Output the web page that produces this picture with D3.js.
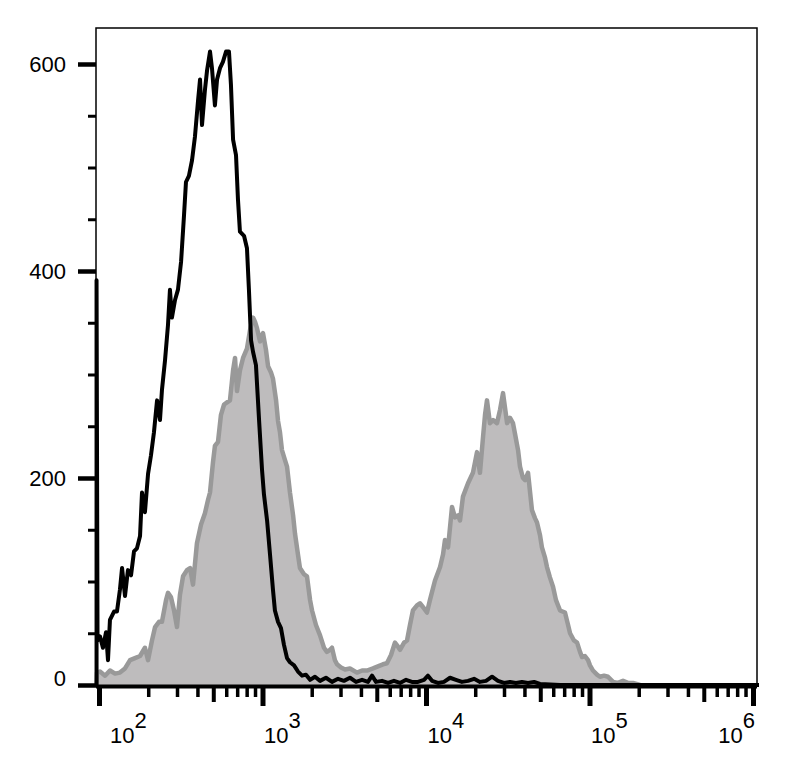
<!DOCTYPE html>
<html>
<head>
<meta charset="utf-8">
<script src="https://cdn.jsdelivr.net/npm/d3@7"></script>
<style>
  html, body { margin: 0; padding: 0; background: #fff; }
  svg { display: block; }
  text { font-family: "Liberation Sans", Arial, sans-serif; fill: #000; }
</style>
</head>
<body>
<svg id="chart" width="798" height="772"></svg>
<script>
// ---------- DATA ----------
// Unstained / isotype control histogram (black line): log10 intensity, event count
const blackLog = [1.985,1.985,1.991,2.006,2.024,2.043,2.055,2.067,2.092,2.110,2.128,2.141,2.159,2.177,2.196,2.214,2.232,2.251,2.263,2.281,2.300,2.318,2.336,2.355,2.373,2.385,2.404,2.422,2.434,2.446,2.465,2.483,2.502,2.520,2.532,2.550,2.569,2.587,2.606,2.618,2.630,2.648,2.661,2.679,2.691,2.709,2.722,2.740,2.758,2.777,2.795,2.807,2.820,2.838,2.850,2.862,2.887,2.905,2.917,2.930,2.942,2.960,2.979,2.997,3.009,3.028,3.046,3.064,3.076,3.095,3.113,3.131,3.150,3.168,3.193,3.217,3.242,3.266,3.291,3.321,3.352,3.388,3.425,3.462,3.498,3.535,3.572,3.609,3.645,3.670,3.694,3.731,3.768,3.804,3.841,3.878,3.914,3.951,3.988,4.012,4.037,4.073,4.110,4.147,4.183,4.220,4.257,4.294,4.330,4.367,4.404,4.440,4.477,4.514,4.550,4.587,4.624,4.661,4.697,4.820,6.040];
const blackCount = [0,391,43,47,36,51,24,63,71,71,92,113,86,111,106,129,132,144,186,167,204,222,244,275,256,285,314,348,382,355,372,382,409,454,486,492,507,530,565,585,541,575,594,612,596,560,585,596,602,612,612,580,527,512,469,438,434,422,382,333,322,309,256,208,184,159,126,92,72,61,55,39,26,22,19,13,9,10,5,8,4,7,3,6,4,7,3,5,3,9,3,4,2,4,2,5,3,3,5,9,4,2,3,7,5,3,4,6,3,4,8,4,2,3,2,3,2,3,1,0,0];

// Stained sample histogram (grey filled): log10 intensity, event count
const grayLog = [1.985,1.988,2.006,2.037,2.067,2.098,2.128,2.159,2.190,2.220,2.251,2.281,2.300,2.324,2.343,2.367,2.385,2.410,2.422,2.440,2.459,2.477,2.495,2.514,2.538,2.557,2.575,2.599,2.624,2.648,2.667,2.679,2.697,2.709,2.728,2.746,2.765,2.783,2.801,2.820,2.832,2.844,2.862,2.881,2.905,2.924,2.942,2.954,2.966,2.985,3.003,3.021,3.034,3.052,3.064,3.083,3.095,3.107,3.119,3.138,3.150,3.168,3.187,3.199,3.217,3.229,3.254,3.272,3.291,3.303,3.327,3.352,3.376,3.394,3.413,3.425,3.443,3.456,3.480,3.505,3.535,3.578,3.609,3.639,3.676,3.706,3.737,3.761,3.786,3.810,3.829,3.841,3.866,3.884,3.902,3.920,3.945,3.963,3.988,4.006,4.024,4.055,4.086,4.104,4.116,4.135,4.159,4.177,4.196,4.208,4.226,4.257,4.287,4.312,4.330,4.349,4.361,4.373,4.391,4.410,4.434,4.453,4.471,4.496,4.514,4.532,4.544,4.563,4.575,4.593,4.606,4.624,4.648,4.667,4.679,4.697,4.709,4.728,4.740,4.758,4.777,4.795,4.820,4.850,4.869,4.881,4.905,4.924,4.942,4.954,4.972,4.991,5.003,5.021,5.046,5.064,5.089,5.113,5.144,5.174,5.205,5.235,5.266,5.309];
const grayCount = [0,12,13,9,14,11,12,16,24,26,28,36,24,43,56,61,61,82,89,85,72,56,87,105,111,113,97,137,155,166,179,186,215,231,235,261,271,273,275,304,316,284,304,316,325,343,355,351,345,332,340,324,308,302,296,275,255,244,227,217,211,186,164,146,126,113,107,105,82,72,58,48,36,32,34,36,24,20,17,15,16,12,14,14,16,18,20,21,29,41,37,34,41,43,58,72,77,79,74,70,82,101,114,126,140,133,172,162,164,159,182,195,205,225,205,240,261,275,253,256,253,266,282,253,258,253,243,227,211,200,198,205,169,161,157,145,133,123,114,104,95,82,72,70,58,50,43,41,32,27,28,24,19,14,10,8,9,8,3,2,4,2,2,0];

const xTickExponents = [2, 3, 4, 5, 6];
const yMajorTicks = [0, 200, 400, 600];
const yMinorTicks = [50, 100, 150, 250, 300, 350, 450, 500, 550];

// ---------- LAYOUT ----------
const svg = d3.select("#chart");
const box = { left: 96, top: 28, right: 757, bottom: 686 };

const x = d3.scaleLog().domain([1e2, 1e6]).range([99, 753]);
const y = d3.scaleLinear().domain([0, 600]).range([685, 64]);

const black = blackLog.map((e, i) => ({ v: Math.pow(10, e), c: blackCount[i] }));
const gray = grayLog.map((e, i) => ({ v: Math.pow(10, e), c: grayCount[i] }));

svg.append("clipPath").attr("id", "clip")
  .append("rect")
  .attr("x", box.left - 2).attr("y", box.top)
  .attr("width", box.right - box.left + 4).attr("height", box.bottom - box.top + 2);

const plot = svg.append("g").attr("clip-path", "url(#clip)");

// grey filled histogram
plot.append("path")
  .datum(gray)
  .attr("fill", "#bebcbd")
  .attr("d", d3.area().x(d => x(d.v)).y0(y(0)).y1(d => y(d.c)));
plot.append("path")
  .datum(gray)
  .attr("fill", "none")
  .attr("stroke", "#999999")
  .attr("stroke-width", 4.5)
  .attr("stroke-linejoin", "round")
  .attr("d", d3.line().x(d => x(d.v)).y(d => y(d.c)));

// black control histogram
plot.append("path")
  .datum(black)
  .attr("fill", "none")
  .attr("stroke", "#000")
  .attr("stroke-width", 4)
  .attr("stroke-linejoin", "round")
  .attr("d", d3.line().x(d => x(d.v)).y(d => y(d.c)));

// frame
svg.append("rect")
  .attr("x", box.left).attr("y", box.top)
  .attr("width", box.right - box.left).attr("height", box.bottom - box.top)
  .attr("fill", "none").attr("stroke", "#000").attr("stroke-width", 1.5);

// ---------- X AXIS ----------
const decades = xTickExponents.map(e => Math.pow(10, e));
const fives = [], minors = [];
xTickExponents.slice(0, -1).forEach(e => {
  for (let m = 2; m <= 9; m++) {
    const v = m * Math.pow(10, e);
    if (m === 5) fives.push(v); else minors.push(v);
  }
});

function styleTicks(g, w) {
  g.select(".domain").remove();
  g.selectAll(".tick line").attr("stroke", "#000").attr("stroke-width", w);
  g.selectAll(".tick text").remove();
}
svg.append("g").attr("transform", `translate(0,${box.bottom})`)
  .call(d3.axisBottom(x).tickValues(minors).tickSize(11).tickFormat(""))
  .call(g => styleTicks(g, 3.5));
svg.append("g").attr("transform", `translate(0,${box.bottom})`)
  .call(d3.axisBottom(x).tickValues(fives).tickSize(16).tickFormat(""))
  .call(g => styleTicks(g, 4));
svg.append("g").attr("transform", `translate(0,${box.bottom})`)
  .call(d3.axisBottom(x).tickValues(decades).tickSize(20).tickFormat(""))
  .call(g => styleTicks(g, 5));

// thick x baseline
svg.append("line")
  .attr("x1", box.left).attr("x2", box.right)
  .attr("y1", box.bottom + 0.5).attr("y2", box.bottom + 0.5)
  .attr("stroke", "#000").attr("stroke-width", 4);

// x labels (10^n)
const xl = svg.append("g");
xTickExponents.forEach((e, i) => {
  const last = i === xTickExponents.length - 1;
  const px = last ? x(Math.pow(10, e)) + 2 : Math.max(x(Math.pow(10, e)) + 1.5, 110);
  const t = xl.append("text")
    .attr("x", px).attr("y", 743)
    .attr("text-anchor", last ? "end" : "start")
    .style("font-size", "22px");
  t.append("tspan").text("10");
  t.append("tspan").attr("dy", -15).style("font-size", "22px").text(String(e));
});

// ---------- Y AXIS ----------
svg.append("g").attr("transform", `translate(${box.left},0)`)
  .call(d3.axisLeft(y).tickValues(yMinorTicks).tickSize(8).tickFormat(""))
  .call(g => styleTicks(g, 3));
const yMaj = svg.append("g").attr("transform", `translate(${box.left},0)`)
  .call(d3.axisLeft(y).tickValues(yMajorTicks).tickSize(18).tickPadding(12).tickFormat(d3.format("d")));
yMaj.select(".domain").remove();
yMaj.selectAll(".tick line").attr("stroke", "#000").attr("stroke-width", 4.5);
yMaj.selectAll(".tick text")
  .attr("fill", "#000")
  .style("font-size", "22px")
  .style("font-family", '"Liberation Sans", Arial, sans-serif')
  .attr("dy", d => d === 0 ? "0em" : "0.34em");
</script>
</body>
</html>
